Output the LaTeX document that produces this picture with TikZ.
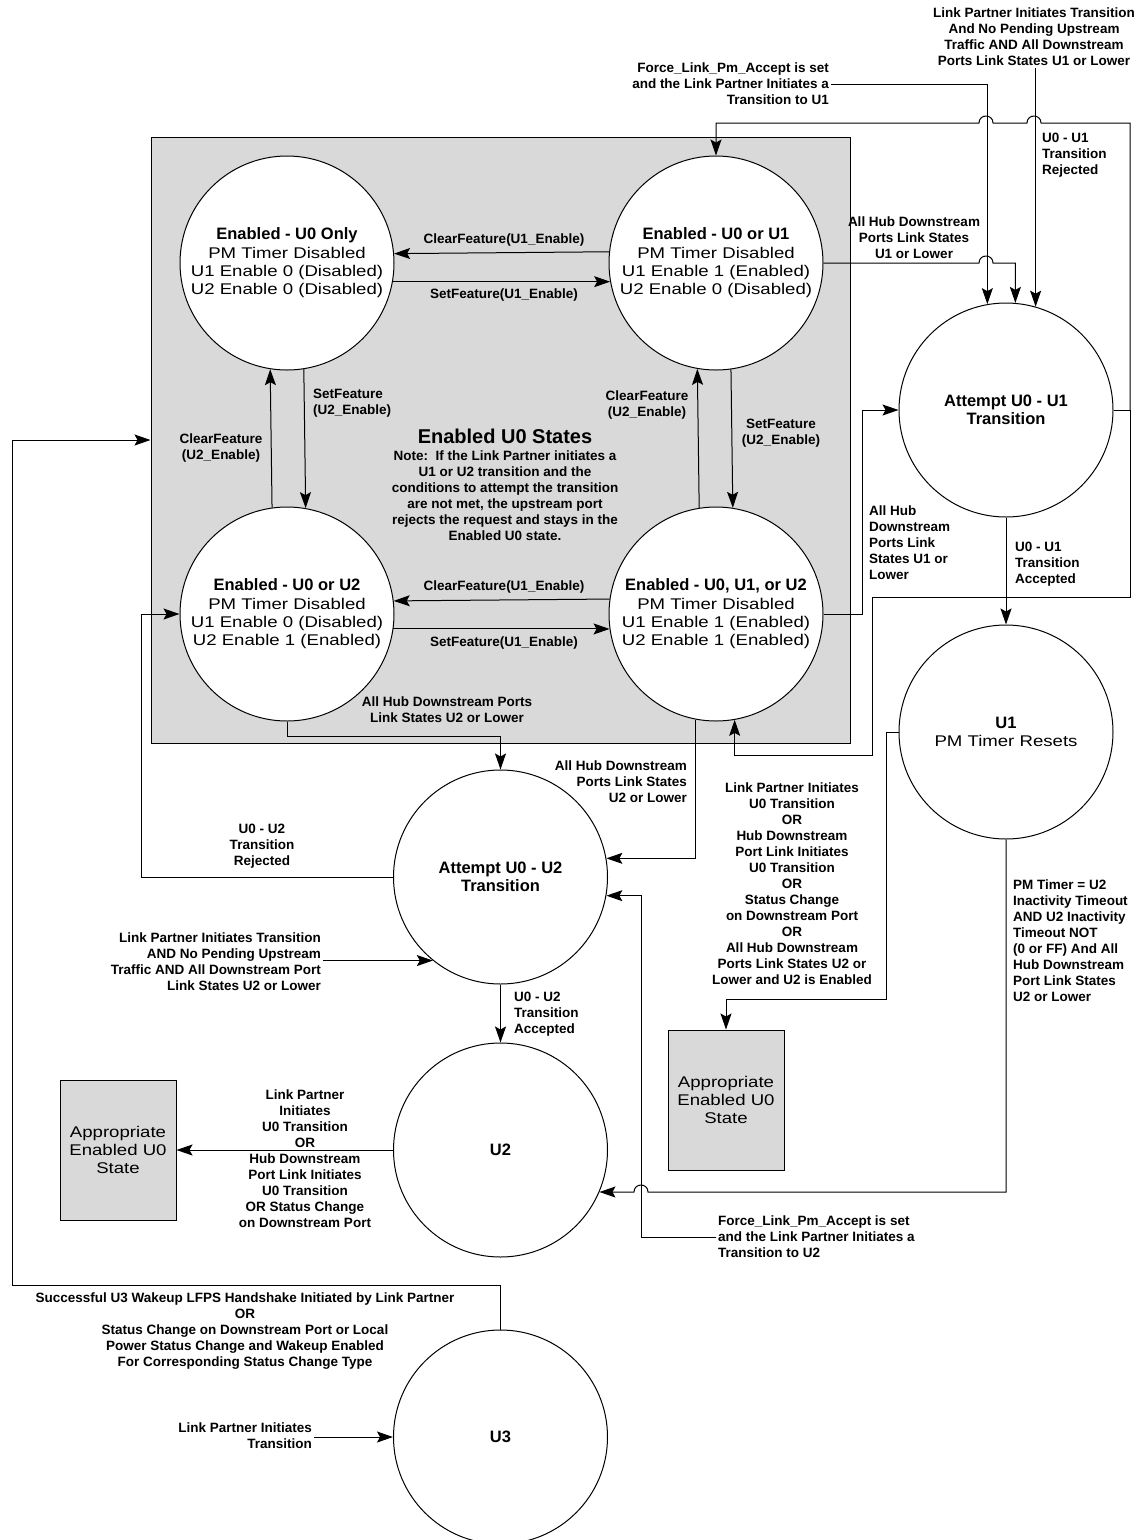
\documentclass[tikz,border=0pt]{standalone}
\usepackage{fontspec}
\setmainfont{Liberation Sans}
\newfontfamily\widesans{Liberation Sans}[FakeStretch=1.2]
\usepackage{xcolor}
\usepackage{tikz}
\usetikzlibrary{arrows.meta}
\definecolor{panelgray}{RGB}{217,217,217}
\newcommand{\statehead}[1]{{\normalfont\bfseries\fontsize{16.5}{18.3}\selectfont #1}}

\begin{document}
\begin{tikzpicture}[
    x=1pt, y=-1pt,
    state/.style={circle, draw, fill=white, line width=1pt, minimum size=214pt, inner sep=0pt, align=center, font=\widesans\fontsize{15.5}{18.3}\selectfont},
    headstate/.style={state, font=\bfseries\fontsize{16.5}{18.3}\selectfont},
    box/.style={rectangle, draw, fill=panelgray, line width=1pt, minimum width=116pt, minimum height=140pt, align=center, font=\widesans\fontsize{15.5}{18.3}\selectfont},
    lbl/.style={inner sep=2pt, align=center, font=\bfseries\fontsize{13.5}{16}\selectfont},
    wire/.style={line width=1pt},
    arrow/.style={wire, -{Stealth[length=16pt,width=11pt,inset=3pt]}}
]
\useasboundingbox (0,0) rectangle (1141,1540);

\node[draw, fill=panelgray, line width=1pt, minimum width=699pt, minimum height=606pt, inner sep=0pt] (u0group) at (500.5,440) {};

\node[state] (u0only) at (287,263) {\statehead{Enabled - U0 Only}\\PM Timer Disabled\\U1 Enable 0 (Disabled)\\U2 Enable 0 (Disabled)};
\node[state] (u0u1) at (716,263) {\statehead{Enabled - U0 or U1}\\PM Timer Disabled\\U1 Enable 1 (Enabled)\\U2 Enable 0 (Disabled)};
\node[state] (u0u2) at (287,614) {\statehead{Enabled - U0 or U2}\\PM Timer Disabled\\U1 Enable 0 (Disabled)\\U2 Enable 1 (Enabled)};
\node[state] (u0all) at (716,614) {\statehead{Enabled - U0, U1, or U2}\\PM Timer Disabled\\U1 Enable 1 (Enabled)\\U2 Enable 1 (Enabled)};
\node[headstate] (tryu1) at (1006,410) {Attempt U0 - U1\\Transition};
\node[state] (u1) at (1006,732) {\statehead{U1}\\PM Timer Resets};
\node[headstate] (tryu2) at (500.5,877) {Attempt U0 - U2\\Transition};
\node[headstate] (u2) at (500.5,1150) {U2};
\node[headstate] (u3) at (500.5,1437) {U3};
\node[box] (backright) at (726,1100) {Appropriate\\Enabled U0\\State};
\node[box] (backleft) at (118,1150) {Appropriate\\Enabled U0\\State};

\node[lbl, font=\bfseries\fontsize{20}{22}\selectfont] (grouptitle) at (505,436) {Enabled U0 States};
\node[lbl] (groupnote) at (505,496) {Note:\ \ If the Link Partner initiates a\\U1 or U2 transition and the\\conditions to attempt the transition\\are not met, the upstream port\\rejects the request and stays in the\\Enabled U0 state.};

\node[lbl] (clrone) at (504,240) {ClearFeature(U1\_Enable)};
\node[lbl] (setone) at (504,295) {SetFeature(U1\_Enable)};
\node[lbl, anchor=west, align=left] (setu2l) at (311,403) {SetFeature\\(U2\_Enable)};
\node[lbl] (clru2l) at (221,448) {ClearFeature\\(U2\_Enable)};
\node[lbl] (clru2r) at (647,405) {ClearFeature\\(U2\_Enable)};
\node[lbl] (setu2r) at (781,433) {SetFeature\\(U2\_Enable)};
\node[lbl] (clrtwo) at (504,587) {ClearFeature(U1\_Enable)};
\node[lbl] (settwo) at (504,643) {SetFeature(U1\_Enable)};
\node[lbl] (dsu2a) at (447,710) {All Hub Downstream Ports\\Link States U2 or Lower};
\node[lbl, anchor=east, align=right] (dsu2b) at (689,782) {All Hub Downstream\\Ports Link States\\U2 or Lower};
\node[lbl] (rejtwo) at (262,846) {U0 - U2\\Transition\\Rejected};
\node[lbl, anchor=east, align=right] (lptwo) at (323,962) {Link Partner Initiates Transition\\AND No Pending Upstream\\Traffic AND All Downstream Port\\Link States U2 or Lower};
\node[lbl, anchor=west, align=left] (acctwo) at (512,1014) {U0 - U2\\Transition\\Accepted};
\node[lbl] (wakeback) at (792,884) {Link Partner Initiates\\U0 Transition\\OR\\Hub Downstream\\Port Link Initiates\\U0 Transition\\OR\\Status Change\\on Downstream Port\\OR\\All Hub Downstream\\Ports Link States U2 or\\Lower and U2 is Enabled};
\node[lbl, anchor=west, align=left] (timeout) at (1011,941) {PM Timer = U2\\Inactivity Timeout\\AND U2 Inactivity\\Timeout NOT\\(0 or FF) And All\\Hub Downstream\\Port Link States\\U2 or Lower};
\node[lbl, anchor=west, align=left] (forcetwo) at (716,1237) {Force\_Link\_Pm\_Accept is set\\and the Link Partner Initiates a\\Transition to U2};
\node[lbl] (exitu2) at (305,1159) {Link Partner\\Initiates\\U0 Transition\\OR\\Hub Downstream\\Port Link Initiates\\U0 Transition\\OR Status Change\\on Downstream Port};
\node[lbl] (wakeup) at (245,1331) {Successful U3 Wakeup LFPS Handshake Initiated by Link Partner\\OR\\Status Change on Downstream Port or Local\\Power Status Change and Wakeup Enabled\\For Corresponding Status Change Type};
\node[lbl, anchor=east, align=right] (lpthree) at (314,1436) {Link Partner Initiates\\Transition};
\node[lbl, anchor=east, align=right] (forceone) at (831,84) {Force\_Link\_Pm\_Accept is set\\and the Link Partner Initiates a\\Transition to U1};
\node[lbl] (lpone) at (1034,37) {Link Partner Initiates Transition\\And No Pending Upstream\\Traffic AND All Downstream\\Ports Link States U1 or Lower};
\node[lbl, anchor=west, align=left] (rejone) at (1040,155) {U0 - U1\\Transition\\Rejected};
\node[lbl] (dsu1a) at (914,238) {All Hub Downstream\\Ports Link States\\U1 or Lower};
\node[lbl, anchor=west, align=left] (dsu1b) at (867,543) {All Hub\\Downstream\\Ports Link\\States U1 or\\Lower};
\node[lbl, anchor=west, align=left] (accone) at (1013,564) {U0 - U1\\Transition\\Accepted};

\coordinate (rejfork) at (1130,410);

\draw[arrow] (u0u1.174.1) -- (u0only.5.9);
\draw[arrow] (u0only.-10.8) -- (u0u1.190.8);
\draw[arrow] (u0u2.98.1) -- (u0only.261.9);
\draw[arrow] (u0only.279.7) -- (u0u2.80.3);
\draw[arrow] (u0all.99.7) -- (u0u1.260.3);
\draw[arrow] (u0u1.278.1) -- (u0all.81.9);
\draw[arrow] (u0all.172.5) -- (u0u2.7.5);
\draw[arrow] (u0u2.-8.6) -- (u0all.188.6);

\draw[arrow] (u0u2.south) -- ++(0,15) -| (tryu2.north);
\draw[arrow] (u0all.259.8) |- (tryu2.10.8);
\draw[arrow] (tryu2.west) -- (141,877) |- (u0u2.west);
\draw[arrow] (tryu2.231.6 -| lptwo.east) -- (tryu2.231.6);
\draw[arrow] (tryu2.south) -- (u2.north);
\draw[arrow] (u2.west) -- (backleft.east);
\draw[arrow] (u3.north) |- (12,1285) |- (u0group.west);
\draw[arrow] (u3.west -| lpthree.east) -- (u3.west);

\draw[arrow] (forceone.east) -| (tryu1.100.8);
\draw[arrow] (lpone.south -| tryu1.74.8) -- (tryu1.74.8);
\draw[arrow] (u0u1.east) -- (979,263) .. controls (979,253.7) and (993,253.7) .. (993,263) -| (tryu1.85.7);
\draw[wire] (tryu1.east) -- (rejfork);
\draw[arrow] (rejfork) -- (1130,123) -- (1041,123) .. controls (1041,113.7) and (1027,113.7) .. (1027,123) -- (993,123) .. controls (993,113.7) and (979,113.7) .. (979,123) -| (u0u1.north);
\draw[arrow] (rejfork) |- (872,597) -- (872,755) -| (u0all.280.2);
\draw[arrow] (u0all.east) -- (862,614) |- (tryu1.west);
\draw[arrow] (tryu1.south) -- (u1.north);
\draw[arrow] (u1.west) -- (886,732) -- (886,999) -| (backright.north);
\draw[arrow] (u1.south) |- (648,1192) .. controls (648,1182.7) and (634,1182.7) .. (634,1192) -- (u2.-23.1);
\draw[arrow] (forcetwo.west) -- (641,1237) |- (tryu2.-10.8);
\end{tikzpicture}
\end{document}
